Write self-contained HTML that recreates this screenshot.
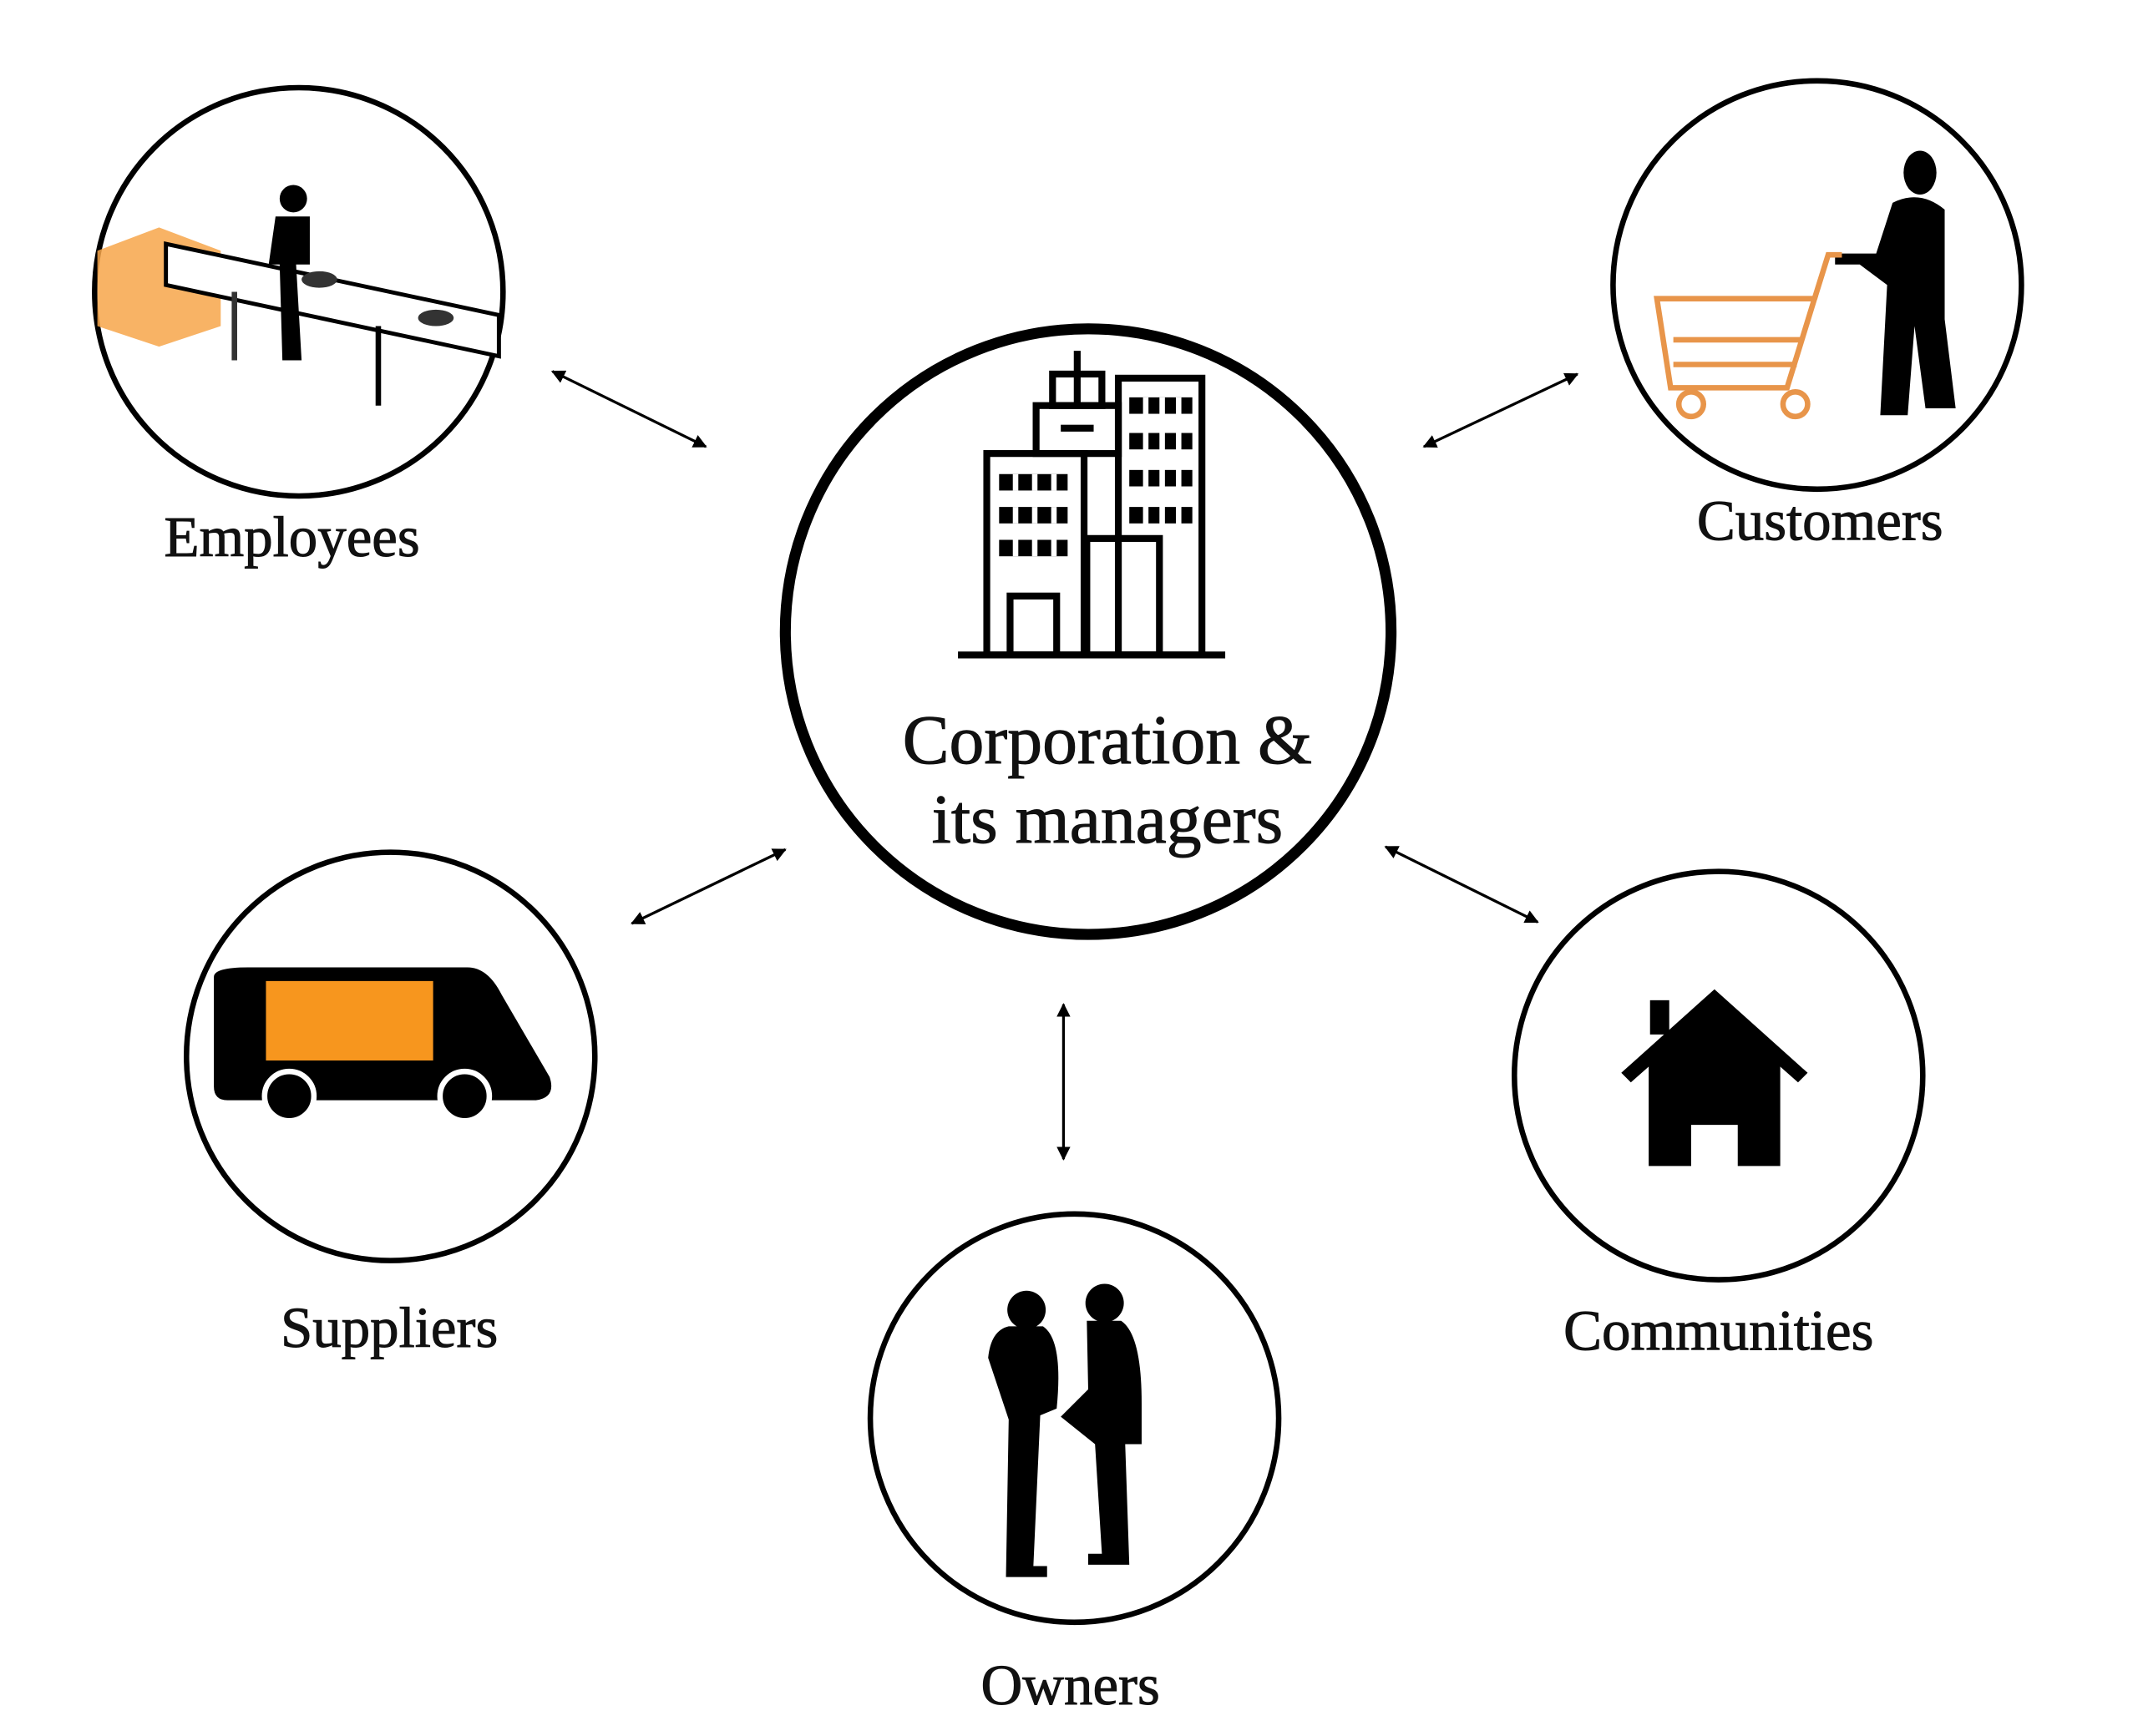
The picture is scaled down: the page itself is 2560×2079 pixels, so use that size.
<!DOCTYPE html>
<html><head><meta charset="utf-8"><style>
html,body{margin:0;padding:0;background:#fff;}
svg{display:block;}
text{font-family:"Liberation Serif",serif;fill:#111;stroke:#111;stroke-width:0.6;}
</style></head><body>
<svg width="2560" height="2079" viewBox="0 0 1560 1267" xmlns="http://www.w3.org/2000/svg">
<defs>
<marker id="a" viewBox="0 0 10 10" refX="9" refY="5" markerWidth="5" markerHeight="5" orient="auto-start-reverse"><path d="M0,0L10,5L0,10z" fill="#000"/></marker>
</defs>
<rect width="1560" height="1267" fill="#fff"/>
<g transform="translate(-4,-2)">
<circle cx="798" cy="463" r="221" fill="none" stroke="#000" stroke-width="8"/>
<circle cx="222" cy="215" r="149" fill="none" stroke="#000" stroke-width="4"/>
<circle cx="1330" cy="210" r="149" fill="none" stroke="#000" stroke-width="4"/>
<circle cx="289" cy="773" r="149" fill="none" stroke="#000" stroke-width="4"/>
<circle cx="1258" cy="787" r="149" fill="none" stroke="#000" stroke-width="4"/>
<circle cx="788" cy="1037" r="149" fill="none" stroke="#000" stroke-width="4"/>
<g stroke="#000" stroke-width="2" marker-start="url(#a)" marker-end="url(#a)">
<line x1="407" y1="273" x2="519" y2="328"/>
<line x1="1155" y1="275" x2="1043" y2="328"/>
<line x1="577" y1="622" x2="465" y2="676"/>
<line x1="1015" y1="620" x2="1126" y2="675"/>
<line x1="780" y1="735" x2="780" y2="848"/>
</g>
<g fill="none" stroke="#000" stroke-width="5">
<line x1="703" y1="480" x2="898" y2="480"/>
<rect x="724" y="333" width="71" height="147"/>
<rect x="760" y="298" width="60" height="35"/>
<line x1="790" y1="258" x2="790" y2="298"/>
<rect x="772" y="275" width="36" height="23"/>
<rect x="820" y="278" width="61" height="202"/>
<rect x="797" y="395" width="53" height="85"/>
<rect x="741" y="437" width="34" height="43"/>
</g>
<g fill="#000">
<rect x="778" y="312" width="24" height="5"/>
<rect x="733" y="348" width="50" height="12"/><rect x="733" y="372" width="50" height="12"/><rect x="733" y="396" width="50" height="12"/>
<rect x="828" y="292" width="46" height="12"/><rect x="828" y="318" width="46" height="12"/><rect x="828" y="345" width="46" height="12"/><rect x="828" y="372" width="46" height="12"/>
</g>
<g fill="#fff">
<rect x="743" y="348" width="4" height="12"/><rect x="757" y="348" width="4" height="12"/><rect x="771" y="348" width="4" height="12"/>
<rect x="743" y="372" width="4" height="12"/><rect x="757" y="372" width="4" height="12"/><rect x="771" y="372" width="4" height="12"/>
<rect x="743" y="396" width="4" height="12"/><rect x="757" y="396" width="4" height="12"/><rect x="771" y="396" width="4" height="12"/>
<rect x="838" y="292" width="4" height="40"/><rect x="850" y="292" width="4" height="100"/><rect x="862" y="292" width="4" height="100"/><rect x="838" y="340" width="4" height="52"/>
</g>
<text x="812" y="559" font-size="51" text-anchor="middle">Corporation &amp;</text>
<text x="812" y="617" font-size="51" text-anchor="middle">its managers</text>
<polygon points="75,185 120,168 165,185 165,240 120,255 75,240" fill="#f7a64a" opacity="0.85"/>
<polygon points="125,180 368,232 368,262 125,210" fill="#fff" stroke="#000" stroke-width="3"/>
<line x1="175" y1="215" x2="175" y2="265" stroke="#333" stroke-width="4"/>
<line x1="280" y1="240" x2="280" y2="298" stroke="#000" stroke-width="4"/>
<circle cx="218" cy="147" r="10" fill="#000"/>
<path d="M205,160 h25 v35 h-10 l4,70 h-14 l-2,-70 h-8 z" fill="#000"/>
<ellipse cx="237" cy="206" rx="13" ry="6" fill="#333"/>
<ellipse cx="322" cy="234" rx="13" ry="6" fill="#333"/>
<ellipse cx="1405" cy="128" rx="12" ry="16" fill="#000"/>
<path d="M1385,150 q20,-10 38,5 v80 l8,65 h-22 l-8,-60 l-5,65 h-20 l5,-95 l-20,-15 l-18,0 v-8 l30,0 z" fill="#000"/>
<g fill="none" stroke="#e8954a" stroke-width="4">
<path d="M1213,220 h115 l-20,65 h-85 z"/>
<path d="M1328,220 l10,-32 h10"/>
<line x1="1225" y1="250" x2="1320" y2="250"/>
<line x1="1225" y1="268" x2="1315" y2="268"/>
<circle cx="1238" cy="297" r="9"/><circle cx="1314" cy="297" r="9"/>
</g>
<path d="M185,708 h160 q15,0 25,20 l35,60 q5,15 -10,17 h-225 q-10,0 -10,-10 v-80 q0,-7 25,-7 z" fill="#000"/>
<rect x="198" y="718" width="122" height="58" fill="#f7961e"/>
<circle cx="215" cy="802" r="18" fill="#000" stroke="#fff" stroke-width="4"/>
<circle cx="343" cy="802" r="18" fill="#000" stroke="#fff" stroke-width="4"/>
<polygon points="1187,785 1255,724 1323,785 1316,792 1255,738 1194,792" fill="#000"/>
<rect x="1208" y="732" width="14" height="25" fill="#000"/>
<path d="M1207,778 L1255,737 L1303,778 V853 H1272 V823 H1238 V853 H1207 Z" fill="#000"/>
<circle cx="753" cy="958" r="14" fill="#000"/>
<path d="M740,970 h25 q15,10 10,60 l-12,5 l-5,110 h10 v8 h-30 l2,-115 l-15,-45 q2,-20 15,-23 z" fill="#000"/>
<circle cx="810" cy="953" r="14" fill="#000"/>
<path d="M797,966 h25 q15,10 15,60 v30 l-12,0 l3,88 h-30 v-8 h10 l-5,-80 l-25,-20 l20,-20 z" fill="#000"/>
<text x="217" y="408" font-size="42" text-anchor="middle">Employees</text>
<text x="1332" y="396" font-size="42" text-anchor="middle">Customers</text>
<text x="288" y="985" font-size="42" text-anchor="middle">Suppliers</text>
<text x="1258" y="987" font-size="42" text-anchor="middle">Communities</text>
<text x="785" y="1246" font-size="42" text-anchor="middle">Owners</text>
</g>
</svg>
</body></html>
